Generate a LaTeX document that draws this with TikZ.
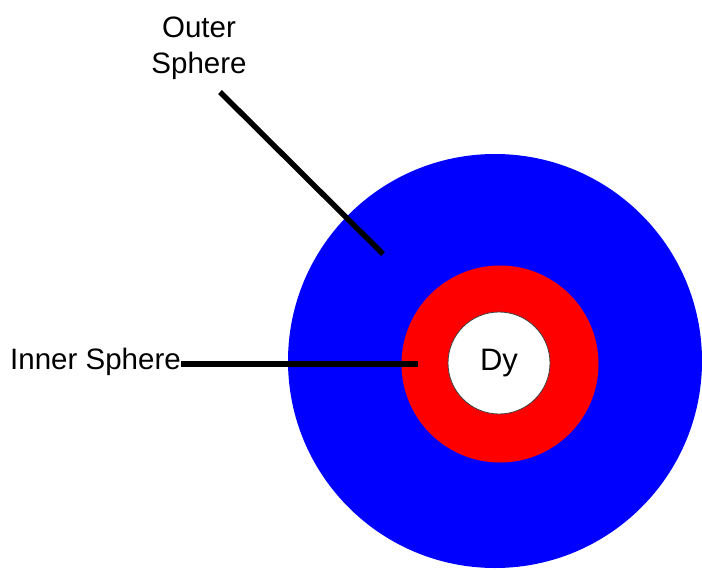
\documentclass[tikz,border=0pt]{standalone}
\usepackage{fontspec}
\setmainfont{Liberation Sans}
\usetikzlibrary{positioning}

\begin{document}
\begin{tikzpicture}[x=1pt, y=-1pt,
    shell/.style={circle, inner sep=0pt},
    tag/.style={inner sep=0pt, font=\fontsize{29.5}{36}\selectfont},
    leader/.style={line width=5.5pt, black}]

\useasboundingbox (0,0) rectangle (702,570);

\node[shell, fill=blue, minimum size=414pt] (outer) at (495,361) {};
\node[shell, fill=red, minimum size=197pt] (inner) at (500,364) {};
\node[shell, tag, fill=white, draw=black!75, line width=0.8pt,
      minimum size=102pt, font=\fontsize{31}{36}\selectfont] (core) at (499,363) {Dy};

\node[tag, align=center] (outerlbl) at (199,48.5) {Outer\\Sphere};
\coordinate (outerfoot) at (220,92);
\coordinate (outertip) at (383,254);
\draw[leader] (outerfoot) -- (outertip);

\node[tag, anchor=base east] (innerlbl) at (181,369) {Inner Sphere};
\coordinate (innertip) at (418,364);
\draw[leader] (innerlbl.east |- innertip) -- (innertip);

\end{tikzpicture}
\end{document}
